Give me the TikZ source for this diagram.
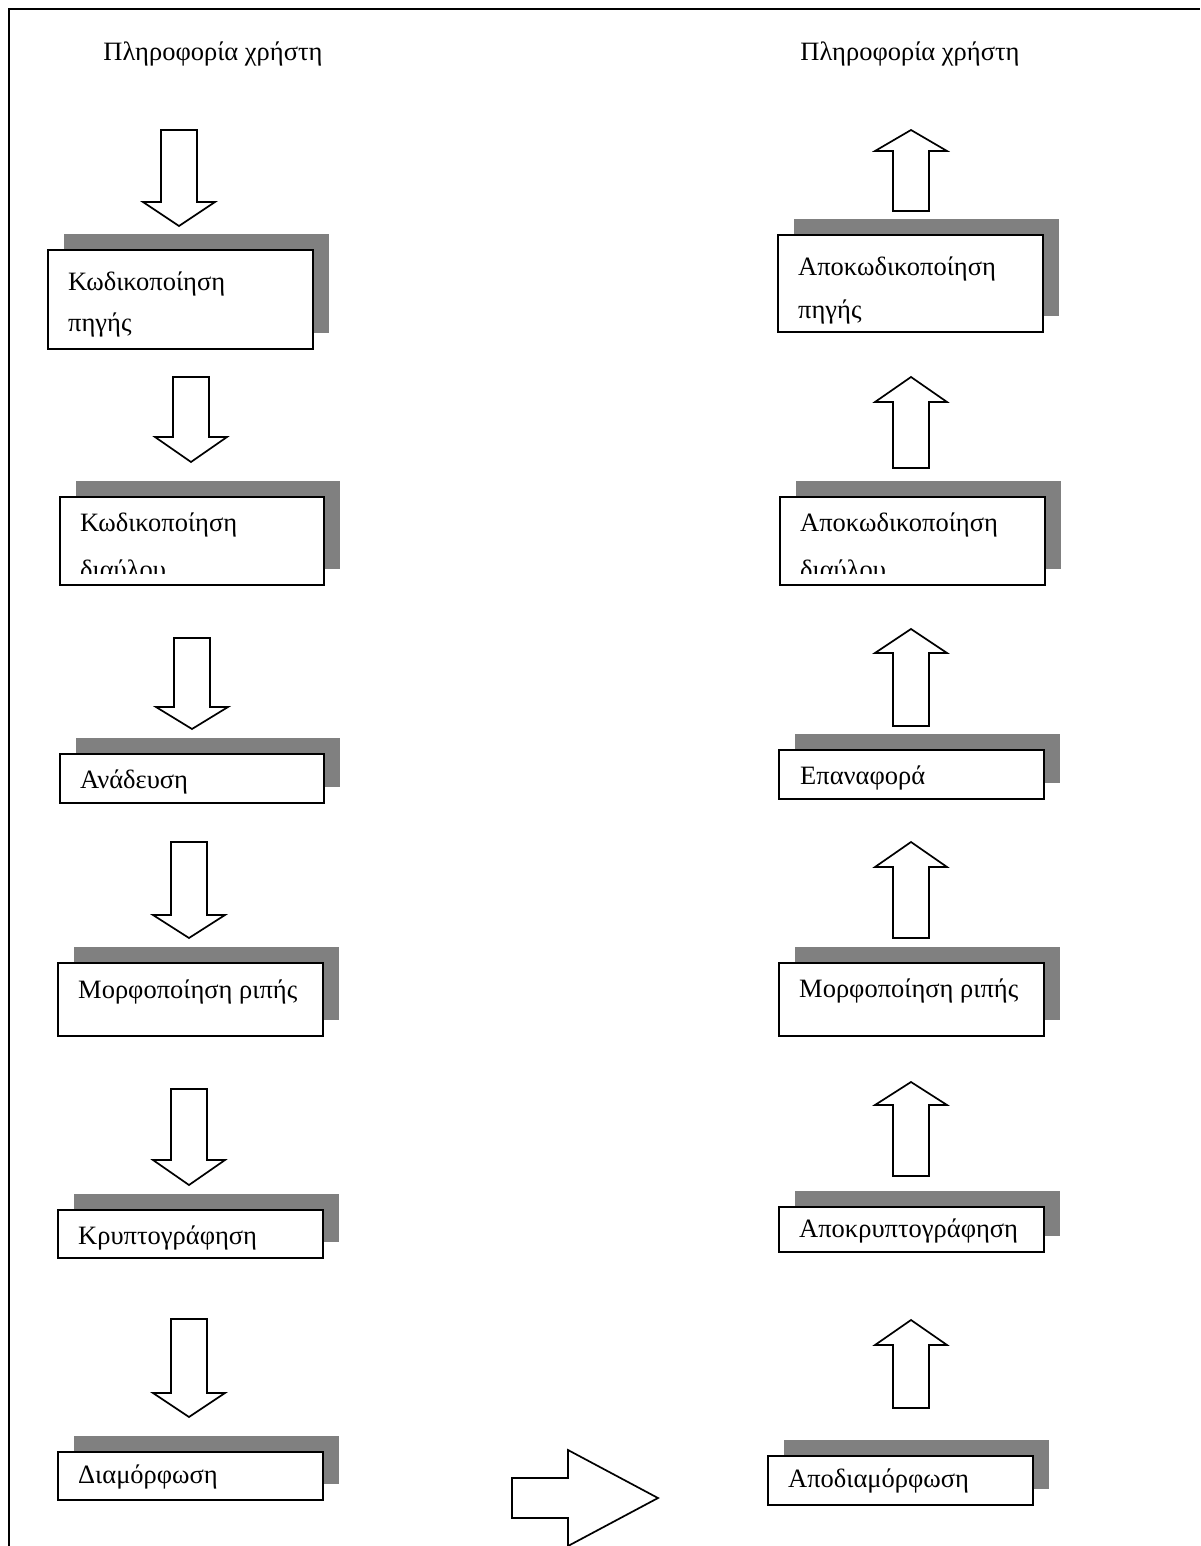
\documentclass[tikz,border=0pt]{standalone}
\usepackage{fontspec}
\setmainfont{Liberation Serif}
\usetikzlibrary{shadows}

% hollow block arrows: centre x, start y, head-base y, tip y
\newcommand\blockdown[4]{%
  \draw[blockarrow] (#1-18,#2) -- (#1+18,#2) -- (#1+18,#3) -- (#1+36,#3)
    -- (#1,#4) -- (#1-36,#3) -- (#1-18,#3) -- cycle;}
\newcommand\blockup[4]{%
  \draw[blockarrow] (#1-18,#2) -- (#1+18,#2) -- (#1+18,#3) -- (#1+36,#3)
    -- (#1,#4) -- (#1-36,#3) -- (#1-18,#3) -- cycle;}
% shadowed stage box: name, left, top, right, bottom
\newcommand\stagebox[5]{%
  \node[stage, anchor=north west, minimum width={(#4-#2)*1pt},
        minimum height={(#5-#3)*1pt}] (#1) at (#2,#3) {};}

\begin{document}
\begin{tikzpicture}[x=1pt, y=-1pt,
  blockarrow/.style={draw=black, line width=1.7pt, fill=white, line join=miter},
  stage/.style={draw=black, line width=1.9pt, fill=white, inner sep=0pt,
    drop shadow={shadow xshift=16pt, shadow yshift=16pt, fill=gray, opacity=1}},
  lbl/.style={anchor=base west, inner sep=0pt, font=\fontsize{26.5}{30}\selectfont},
  title/.style={anchor=base, inner sep=0pt, font=\fontsize{26.5}{30}\selectfont}]

\useasboundingbox (0,0) rectangle (1200,1546);
\fill[white] (0,0) rectangle (1200,1546);

% frame
\draw[line width=2.4pt] (9,1546) -- (9,9) -- (1200,9);

% headings
\node[title] (inL) at (213,61) {Πληροφορία χρήστη};
\node[title] (inR) at (910,61) {Πληροφορία χρήστη};

% transmitter chain
\blockdown{179}{130}{202}{226}
\stagebox{k1}{47}{249}{312}{348}
\node[lbl] (k1a) at (68,290) {Κωδικοποίηση};
\node[lbl] (k1b) at (68,331) {πηγής};

\blockdown{191}{377}{437}{462}
\stagebox{k2}{59}{496}{323}{584}
\node[lbl] (k2a) at (80,531) {Κωδικοποίηση};
\coordinate (cutL) at (0,573);
\begin{scope}
  \clip (k2.north west) rectangle (k2.east |- cutL);
  \node[lbl] (k2b) at (80,578) {διαύλου};
\end{scope}

\blockdown{192}{638}{707}{729}
\stagebox{k3}{59}{753}{323}{802}
\node[lbl] (k3a) at (80,788) {Ανάδευση};

\blockdown{189}{842}{915}{938}
\stagebox{k4}{57}{962}{322}{1035}
\node[lbl] (k4a) at (78,998) {Μορφοποίηση ριπής};

\blockdown{189}{1089}{1160}{1185}
\stagebox{k5}{57}{1209}{322}{1257}
\node[lbl] (k5a) at (78,1244) {Κρυπτογράφηση};

\blockdown{189}{1319}{1393}{1417}
\stagebox{k6}{57}{1451}{322}{1499}
\node[lbl] (k6a) at (78,1483) {Διαμόρφωση};

% channel
\draw[blockarrow] (512,1478) -- (568,1478) -- (568,1450) -- (658,1498)
  -- (568,1546) -- (568,1518) -- (512,1518) -- cycle;

% receiver chain
\blockup{911}{211}{151}{130}
\stagebox{r1}{777}{234}{1042}{331}
\node[lbl] (r1a) at (798,275) {Αποκωδικοποίηση};
\node[lbl] (r1b) at (798,318) {πηγής};

\blockup{911}{468}{402}{377}
\stagebox{r2}{779}{496}{1044}{584}
\node[lbl] (r2a) at (800,531) {Αποκωδικοποίηση};
\coordinate (cutR) at (0,573);
\begin{scope}
  \clip (r2.north west) rectangle (r2.east |- cutR);
  \node[lbl] (r2b) at (800,578) {διαύλου};
\end{scope}

\blockup{911}{726}{653}{629}
\stagebox{r3}{778}{749}{1043}{798}
\node[lbl] (r3a) at (800,784) {Επαναφορά};

\blockup{911}{938}{867}{842}
\stagebox{r4}{778}{962}{1043}{1035}
\node[lbl] (r4a) at (799,997) {Μορφοποίηση ριπής};

\blockup{911}{1176}{1105}{1082}
\stagebox{r5}{778}{1206}{1043}{1251}
\node[lbl] (r5a) at (799,1237) {Αποκρυπτογράφηση};

\blockup{911}{1408}{1345}{1320}
\stagebox{r6}{767}{1455}{1032}{1504}
\node[lbl] (r6a) at (788,1487) {Αποδιαμόρφωση};

\end{tikzpicture}
\end{document}
